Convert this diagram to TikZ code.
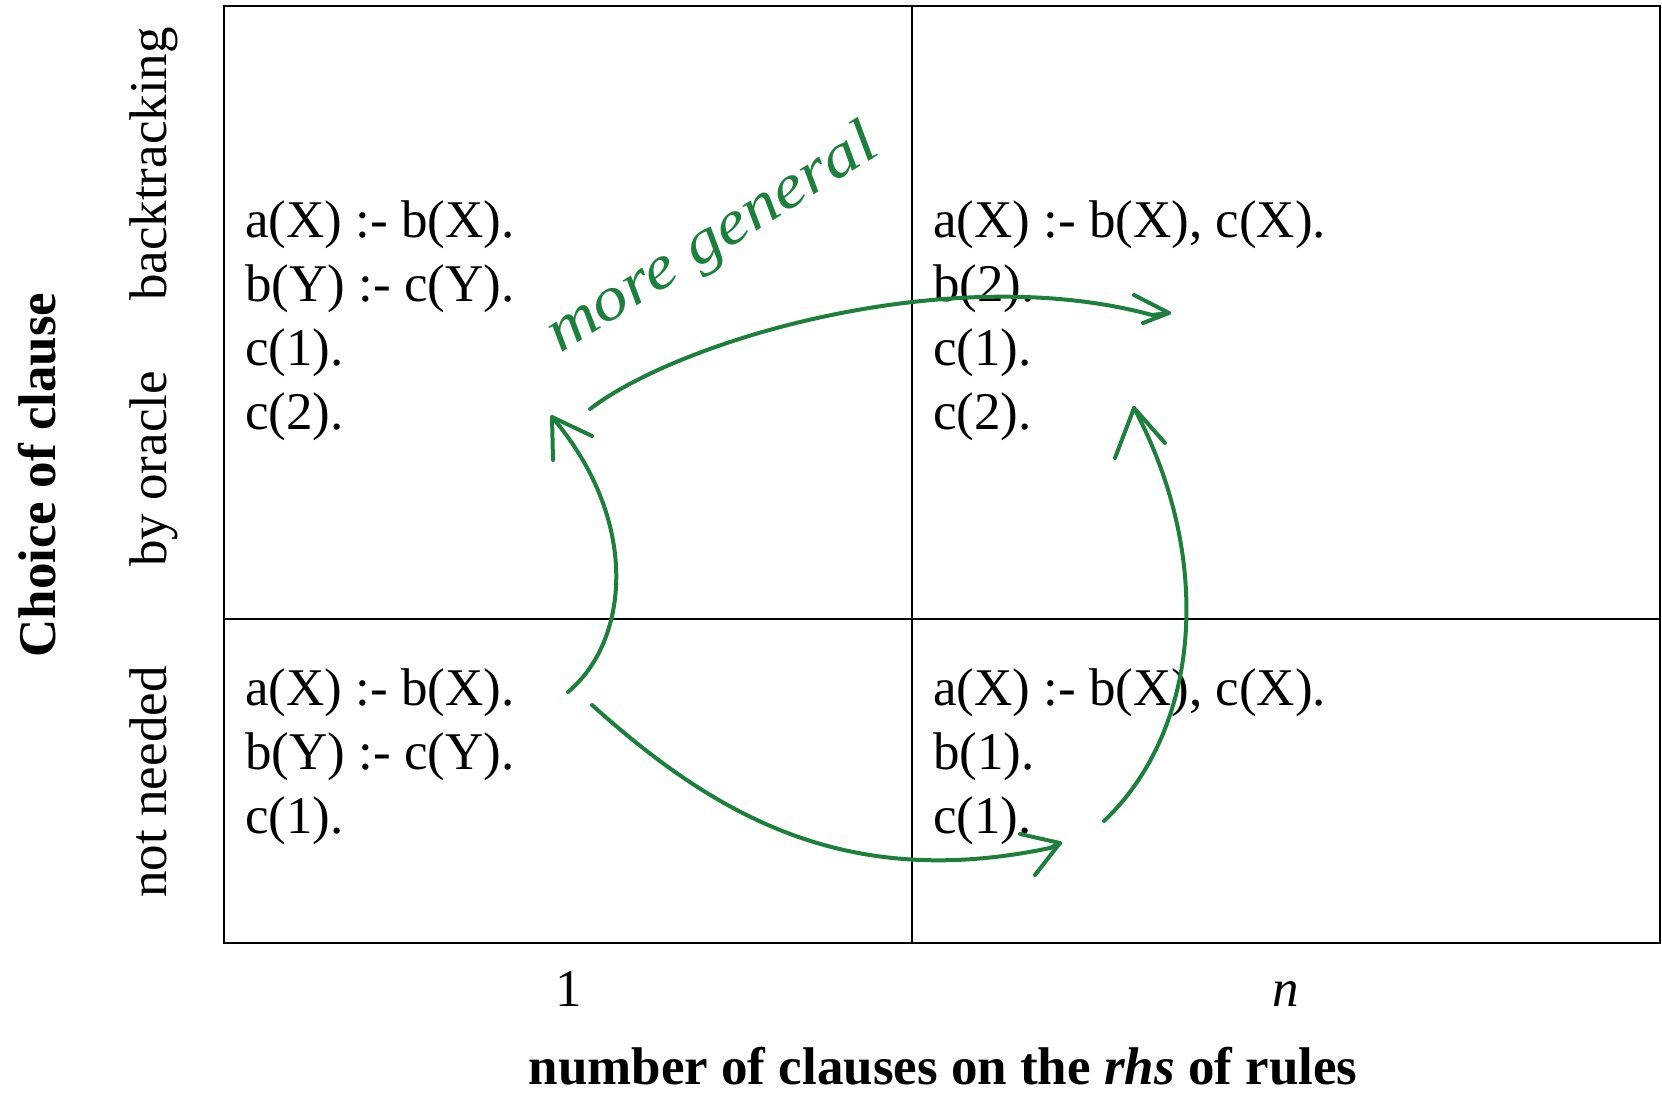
\documentclass[tikz,border=0pt]{standalone}
\usepackage{fontspec}
\setmainfont{Liberation Serif}
\usepackage{graphicx}
\definecolor{pen}{RGB}{28,128,60}
\begin{document}
\begin{tikzpicture}[x=1pt,y=-1pt,
  grid/.style={line width=2pt,black},
  txt/.style={font=\fontsize{53}{64}\selectfont,inner sep=0pt,align=left},
  side/.style={font=\fontsize{53}{64}\selectfont,inner sep=0pt,rotate=90,anchor=base},
  ink/.style={pen,line width=4pt,line cap=round,line join=round}]
\useasboundingbox (0,0) rectangle (1662,1092);
% grid
\draw[grid] (224.3,5.5) rectangle (1660,943);
\draw[grid] (912.3,5.5) -- (912.3,943);
\draw[grid] (224.3,619.3) -- (1660,619.3);
% cell texts (anchor = baseline of the last line)
\node[txt,anchor=base west] (tl) at (245,429) {a(X) :- b(X).\\b(Y) :- c(Y).\\c(1).\\c(2).};
\node[txt,anchor=base west] (tr) at (933,429) {a(X) :- b(X), c(X).\\b(2).\\c(1).\\c(2).};
\node[txt,anchor=base west] (bl) at (245,833) {a(X) :- b(X).\\b(Y) :- c(Y).\\c(1).};
\node[txt,anchor=base west] (br) at (933,833) {a(X) :- b(X), c(X).\\b(1).\\c(1).};
% axis labels
\node[txt,anchor=base] (one) at (569,1006) {1};
\node[txt,anchor=base] (nn) at (1286,1006) {\itshape n};
\node[txt,anchor=base] (xlab) at (943,1084) {\bfseries number of clauses on the \textit{rhs} of rules};
\node[side] (ylab) at (55,475) {\bfseries Choice of clause};
\node[side] (bt) at (166,164) {backtracking};
\node[side] (bo) at (166,469) {by oracle};
\node[side] (nn2) at (166,782) {not needed};
% handwritten annotation
\node[pen,inner sep=0pt,anchor=base west,rotate=32,font=\fontsize{62}{70}\selectfont] (mg) at (560,354) {\scalebox{1.15}[1]{\itshape more general}};
% arrows
\coordinate (a0) at (568,692); \coordinate (a1) at (552,417);
\coordinate (b0) at (590,409); \coordinate (b1) at (1169,313);
\coordinate (c0) at (592,705); \coordinate (c1) at (1060,843);
\coordinate (d0) at (1104,821); \coordinate (d1) at (1134,408);
\draw[ink] (a0) .. controls (630,640) and (640,520) .. (a1);
\draw[ink] (592,436) -- (a1) -- (553,460);
\draw[ink] (b0) .. controls (680,340) and (950,260) .. (1152,315) -- (b1);
\draw[ink] (1134,295) -- (b1) -- (1143,323);
\draw[ink] (c0) .. controls (720,820) and (850,890) .. (1050,848) -- (c1);
\draw[ink] (1020,834) -- (c1) -- (1035,875);
\draw[ink] (d0) .. controls (1200,730) and (1215,560) .. (d1);
\draw[ink] (1115,458) -- (d1) -- (1165,443);
\end{tikzpicture}
\end{document}
